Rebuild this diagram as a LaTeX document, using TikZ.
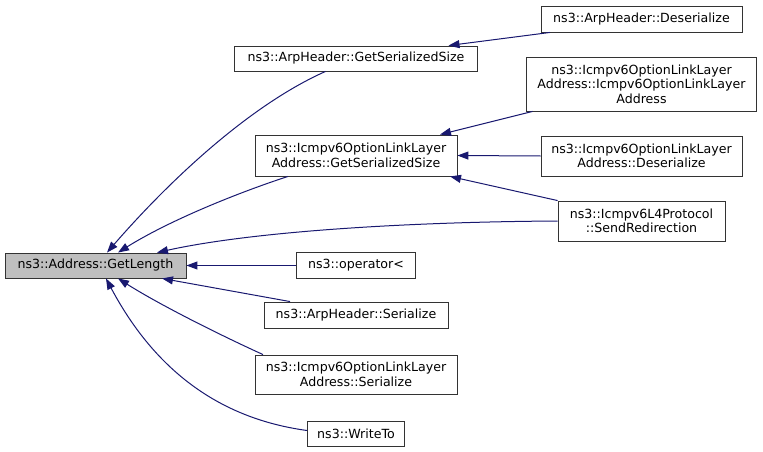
\documentclass[tikz,border=0pt]{standalone}
\usepackage{fontspec}
\setmainfont{DejaVu Sans}
\usetikzlibrary{arrows.meta}
\definecolor{edgeblue}{RGB}{25,25,112}
\definecolor{curgray}{RGB}{191,191,191}

\begin{document}
\begin{tikzpicture}[
    x=1pt, y=-1pt,
    >={Triangle[length=11pt, width=8pt]},
    func/.style={draw=black!80, line width=0.9pt, fill=white, align=center,
                 inner sep=0pt, font=\fontsize{12.6}{14.5}\selectfont},
    cur/.style={func, fill=curgray},
    arr/.style={->, draw=edgeblue, line width=1pt}
]
\useasboundingbox (0,0) rectangle (763,452);

\def\xa{95.5}
\def\xb{356}
\def\xc{641.5}

\node[cur, minimum width=181pt, minimum height=25pt] (root) at (\xa, 265.5)
  {ns3::Address::GetLength};

\node[func, minimum width=243pt, minimum height=25pt] (arpgss) at (\xb, 58.5)
  {ns3::ArpHeader::GetSerializedSize};
\node[func, minimum width=202pt, minimum height=41pt] (icgss) at (\xb, 155.5)
  {ns3::Icmpv6OptionLinkLayer\\Address::GetSerializedSize};
\node[func, minimum width=119pt, minimum height=26pt] (opless) at (\xb, 265.5)
  {ns3::operator<};
\node[func, minimum width=184pt, minimum height=26pt] (arpser) at (\xb, 315)
  {ns3::ArpHeader::Serialize};
\node[func, minimum width=202pt, minimum height=39pt] (icser) at (\xb, 374.5)
  {ns3::Icmpv6OptionLinkLayer\\Address::Serialize};
\node[func, minimum width=97pt, minimum height=25pt] (wrto) at (\xb, 433.5)
  {ns3::WriteTo};

\node[func, minimum width=201pt, minimum height=26pt] (arpdes) at (\xc, 19)
  {ns3::ArpHeader::Deserialize};
\node[func, minimum width=230pt, minimum height=54pt] (icctor) at (\xc, 84)
  {ns3::Icmpv6OptionLinkLayer\\Address::Icmpv6OptionLinkLayer\\Address};
\node[func, minimum width=201pt, minimum height=40pt] (icdes) at (\xc, 156)
  {ns3::Icmpv6OptionLinkLayer\\Address::Deserialize};
\node[func, minimum width=167pt, minimum height=40pt] (sendred) at (\xc, 221)
  {ns3::Icmpv6L4Protocol\\::SendRedirection};

% callers of GetLength
\draw[arr] ([xshift=-30.5pt]arpgss.south) .. controls (250,105) and (170,180)
  .. ([xshift=11.5pt]root.north);
\draw[arr] ([xshift=-68pt]icgss.south) .. controls (240,192) and (170,220)
  .. ([xshift=22.5pt]root.north);
\draw[arr] (sendred.west) .. controls (400,222) and (250,232)
  .. ([xshift=61.5pt]root.north);
\draw[arr] (opless.west) -- (root.east);
\draw[arr] ([xshift=-66pt]arpser.north) -- ([xshift=66.5pt]root.south);
\draw[arr] ([xshift=-93pt]icser.north) .. controls (220,335) and (160,305)
  .. ([xshift=22.5pt]root.south);
\draw[arr] ([yshift=3pt]wrto.west) .. controls (230,420) and (160,380)
  .. ([xshift=10.5pt]root.south);

% second level
\draw[arr] ([xshift=-91.5pt]arpdes.south) -- ([xshift=92.5pt]arpgss.north);
\draw[arr] ([xshift=-109pt]icctor.south) -- ([xshift=84pt]icgss.north);
\draw[arr] (icdes.west) -- (icgss.east);
\draw[arr] (sendred.north west) -- ([xshift=94pt]icgss.south);

\end{tikzpicture}
\end{document}
